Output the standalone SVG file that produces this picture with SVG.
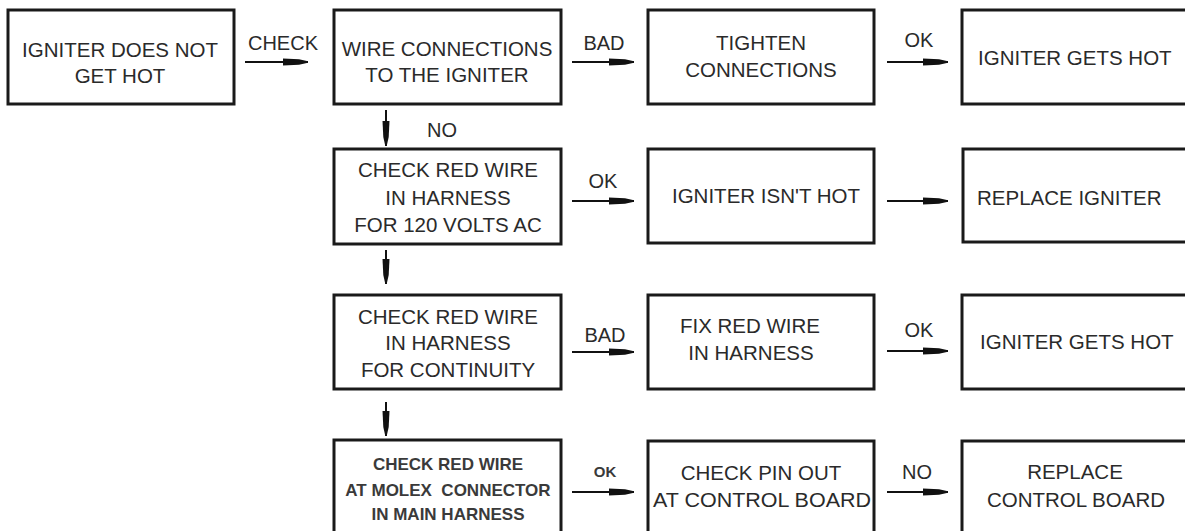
<svg xmlns="http://www.w3.org/2000/svg" width="1185" height="531" viewBox="0 0 1185 531">
<style>
.box rect{fill:#fff;stroke:#1a1a1a;stroke-width:3}
text{font-family:"Liberation Sans",Arial,sans-serif;font-size:20.5px;fill:#2a2a2a}
.c{text-anchor:middle}
.sm{font-size:17px;font-weight:bold;fill:#3a3a3a}
.lbl{font-size:20px}
.conn line{stroke:#111;stroke-width:2;fill:none}
</style>
<defs>
<marker id="ah" markerUnits="userSpaceOnUse" markerWidth="26" markerHeight="10" viewBox="0 0 26 10" refX="25" refY="5" orient="auto">
<path d="M0,1.5 L16,2.3 L25,4.3 L25,5.7 L16,7.7 L0,8.5 Z" fill="#111"/>
</marker>
</defs>
<rect width="1185" height="531" fill="#fff"/>

<g class="conn">
<line x1="245" y1="62" x2="308" y2="62" marker-end="url(#ah)"/>
<line x1="572" y1="62" x2="634" y2="62" marker-end="url(#ah)"/>
<line x1="887" y1="62" x2="948" y2="62" marker-end="url(#ah)"/>
<line x1="572" y1="201" x2="634" y2="201" marker-end="url(#ah)"/>
<line x1="887" y1="201" x2="948" y2="201" marker-end="url(#ah)"/>
<line x1="572" y1="352" x2="634" y2="352" marker-end="url(#ah)"/>
<line x1="887" y1="351" x2="948" y2="351" marker-end="url(#ah)"/>
<line x1="572" y1="492" x2="634" y2="492" marker-end="url(#ah)"/>
<line x1="887" y1="492" x2="948" y2="492" marker-end="url(#ah)"/>
<line x1="386" y1="110" x2="386" y2="146" marker-end="url(#ah)"/>
<line x1="386" y1="250" x2="386" y2="284" marker-end="url(#ah)"/>
<line x1="386" y1="402" x2="386" y2="436" marker-end="url(#ah)"/>
<text class="c lbl" x="283" y="50">CHECK</text>
<text class="c lbl" x="604" y="50">BAD</text>
<text class="c lbl" x="919" y="47">OK</text>
<text class="c lbl" x="442" y="137">NO</text>
<text class="c lbl" x="603" y="188">OK</text>
<text class="c lbl" x="605" y="342">BAD</text>
<text class="c lbl" x="919" y="337">OK</text>
<text class="c sm" x="605" y="477" style="font-size:15px">OK</text>
<text class="c lbl" x="917" y="479">NO</text>
</g>

<g id="n1" class="box"><rect x="8" y="10" width="226" height="94"/>
<text class="c" x="120" y="57">IGNITER DOES NOT</text><text class="c" x="120" y="83">GET HOT</text></g>

<g id="n2" class="box"><rect x="334" y="10" width="227" height="94"/>
<text class="c" x="447" y="56">WIRE CONNECTIONS</text><text class="c" x="447" y="82">TO THE IGNITER</text></g>

<g id="n3" class="box"><rect x="648" y="10" width="226" height="94"/>
<text class="c" x="761" y="50">TIGHTEN</text><text class="c" x="761" y="77">CONNECTIONS</text></g>

<g id="n4" class="box"><rect x="962" y="10" width="240" height="94"/>
<text x="978" y="65">IGNITER GETS HOT</text></g>

<g id="n5" class="box"><rect x="334" y="149" width="227" height="95"/>
<text class="c" x="448" y="177">CHECK RED WIRE</text><text class="c" x="448" y="205">IN HARNESS</text><text class="c" x="448" y="232">FOR 120 VOLTS AC</text></g>

<g id="n6" class="box"><rect x="648" y="149" width="226" height="94"/>
<text class="c" x="766" y="203">IGNITER ISN'T HOT</text></g>

<g id="n7" class="box"><rect x="963" y="149" width="240" height="93"/>
<text x="977" y="205">REPLACE IGNITER</text></g>

<g id="n8" class="box"><rect x="334" y="295" width="227" height="94"/>
<text class="c" x="448" y="324">CHECK RED WIRE</text><text class="c" x="448" y="350">IN HARNESS</text><text class="c" x="448" y="377">FOR CONTINUITY</text></g>

<g id="n9" class="box"><rect x="648" y="295" width="226" height="94"/>
<text class="c" x="750" y="333">FIX RED WIRE</text><text class="c" x="751" y="360">IN HARNESS</text></g>

<g id="n10" class="box"><rect x="962" y="295" width="240" height="94"/>
<text x="980" y="349">IGNITER GETS HOT</text></g>

<g id="n11" class="box"><rect x="334" y="440" width="227" height="96"/>
<text class="c sm" x="448" y="470">CHECK RED WIRE</text><text class="c sm" x="448" y="496" xml:space="preserve">AT MOLEX  CONNECTOR</text><text class="c sm" x="448" y="520">IN MAIN HARNESS</text></g>

<g id="n12" class="box"><rect x="648" y="441" width="226" height="96"/>
<text class="c" x="761" y="480">CHECK PIN OUT</text><text class="c" x="762" y="507" textLength="218" lengthAdjust="spacingAndGlyphs">AT CONTROL BOARD</text></g>

<g id="n13" class="box"><rect x="962" y="441" width="240" height="96"/>
<text class="c" x="1075" y="479">REPLACE</text><text class="c" x="1076" y="507">CONTROL BOARD</text></g>
</svg>
